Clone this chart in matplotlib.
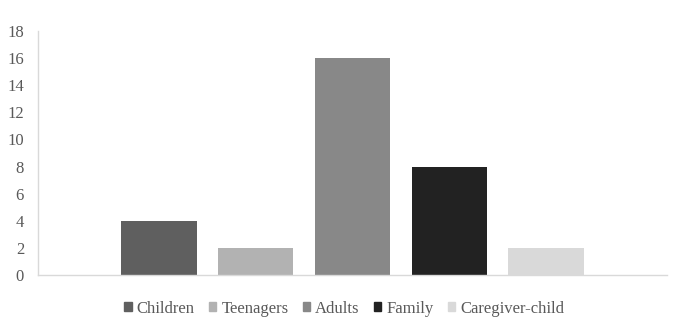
import matplotlib.pyplot as plt
from matplotlib.patches import Patch

series = ["Children", "Teenagers", "Adults", "Family", "Caregiver-child"]
values = [4, 2, 16, 8, 2]
colors = ["#5f5f5f", "#b2b2b2", "#888888", "#222222", "#d9d9d9"]
yticks = [0, 2, 4, 6, 8, 10, 12, 14, 16, 18]

plt.rcParams['font.family'] = ['Liberation Serif', 'DejaVu Serif']

fig = plt.figure(figsize=(6.75, 3.3), dpi=100)
ax = fig.add_axes([0.0563, 0.1667, 0.9317, 0.7393])

for i, (name, v, c) in enumerate(zip(series, values, colors)):
    ax.bar(i, v, width=0.78, color=c, label=name)

ax.set_xlim(-1.247, 5.247)
ax.set_ylim(0, 18)
ax.set_yticks(yticks)
ax.set_xticks([])
ax.tick_params(axis='y', length=0, labelsize=12, labelcolor="#595959", pad=10)
for s in ["top", "right"]:
    ax.spines[s].set_visible(False)
for s in ["left", "bottom"]:
    ax.spines[s].set_color("#d9d9d9")
    ax.spines[s].set_linewidth(1)

handles = [Patch(color=c, label=n) for n, c in zip(series, colors)]
fig.legend(handles=handles, loc="center", bbox_to_anchor=(0.51, 0.064), ncol=5,
           frameon=False, fontsize=12, labelcolor="#595959",
           handlelength=0.45, handleheight=0.45, handletextpad=0.3, columnspacing=0.85)

fig.savefig("out.png", dpi=100)
